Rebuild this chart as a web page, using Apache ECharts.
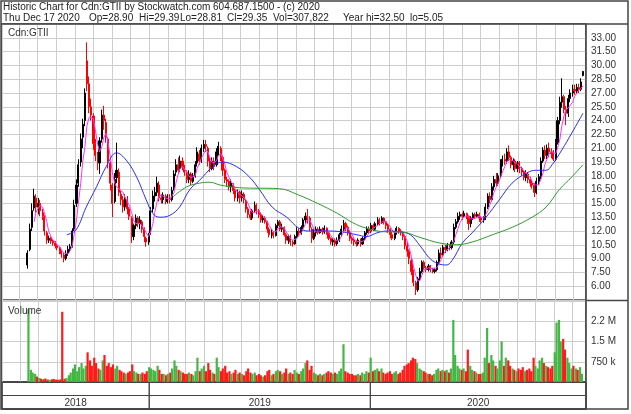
<!DOCTYPE html>
<html><head><meta charset="utf-8">
<script src="https://cdn.jsdelivr.net/npm/echarts@6/dist/echarts.min.js"></script>
<style>html,body{margin:0;padding:0;background:#fff}#c{width:631px;height:414px}</style>
</head><body><div id="c"></div>
<script>
// ---- data (semi-weekly samples) ----
const dates = [
'2018-06-14','2018-06-18','2018-06-21','2018-06-25','2018-06-28',
'2018-07-02','2018-07-05','2018-07-09','2018-07-12','2018-07-16','2018-07-19','2018-07-23','2018-07-26','2018-07-30',
'2018-08-02','2018-08-06','2018-08-09','2018-08-13','2018-08-16','2018-08-20','2018-08-23','2018-08-27','2018-08-30',
'2018-09-03','2018-09-06','2018-09-10','2018-09-13','2018-09-17','2018-09-20','2018-09-24','2018-09-27',
'2018-10-01','2018-10-04','2018-10-08','2018-10-11','2018-10-15','2018-10-18','2018-10-22','2018-10-25','2018-10-29',
'2018-11-01','2018-11-05','2018-11-08','2018-11-12','2018-11-15','2018-11-19','2018-11-22','2018-11-26','2018-11-29',
'2018-12-03','2018-12-06','2018-12-10','2018-12-13','2018-12-17','2018-12-20','2018-12-24','2018-12-27','2018-12-31',
'2019-01-03','2019-01-07','2019-01-10','2019-01-14','2019-01-17','2019-01-21','2019-01-24','2019-01-28','2019-01-31',
'2019-02-04','2019-02-07','2019-02-11','2019-02-14','2019-02-18','2019-02-21','2019-02-25','2019-02-28',
'2019-03-04','2019-03-07','2019-03-11','2019-03-14','2019-03-18','2019-03-21','2019-03-25','2019-03-28',
'2019-04-01','2019-04-04','2019-04-08','2019-04-11','2019-04-15','2019-04-18','2019-04-22','2019-04-25','2019-04-29',
'2019-05-02','2019-05-06','2019-05-09','2019-05-13','2019-05-16','2019-05-20','2019-05-23','2019-05-27','2019-05-30',
'2019-06-03','2019-06-06','2019-06-10','2019-06-13','2019-06-17','2019-06-20','2019-06-24','2019-06-27',
'2019-07-01','2019-07-04','2019-07-08','2019-07-11','2019-07-15','2019-07-18','2019-07-22','2019-07-25','2019-07-29',
'2019-08-01','2019-08-05','2019-08-08','2019-08-12','2019-08-15','2019-08-19','2019-08-22','2019-08-26','2019-08-29',
'2019-09-02','2019-09-05','2019-09-09','2019-09-12','2019-09-16','2019-09-19','2019-09-23','2019-09-26','2019-09-30',
'2019-10-03','2019-10-07','2019-10-10','2019-10-14','2019-10-17','2019-10-21','2019-10-24','2019-10-28','2019-10-31',
'2019-11-04','2019-11-07','2019-11-11','2019-11-14','2019-11-18','2019-11-21','2019-11-25','2019-11-28',
'2019-12-02','2019-12-05','2019-12-09','2019-12-12','2019-12-16','2019-12-19','2019-12-23','2019-12-26','2019-12-30',
'2020-01-02','2020-01-06','2020-01-09','2020-01-13','2020-01-16','2020-01-20','2020-01-23','2020-01-27','2020-01-30',
'2020-02-03','2020-02-06','2020-02-10','2020-02-13','2020-02-17','2020-02-20','2020-02-24','2020-02-27',
'2020-03-02','2020-03-05','2020-03-09','2020-03-12','2020-03-16','2020-03-19','2020-03-23','2020-03-26','2020-03-30',
'2020-04-02','2020-04-06','2020-04-09','2020-04-13','2020-04-16','2020-04-20','2020-04-23','2020-04-27','2020-04-30',
'2020-05-04','2020-05-07','2020-05-11','2020-05-14','2020-05-18','2020-05-21','2020-05-25','2020-05-28',
'2020-06-01','2020-06-04','2020-06-08','2020-06-11','2020-06-15','2020-06-18','2020-06-22','2020-06-25','2020-06-29',
'2020-07-02','2020-07-06','2020-07-09','2020-07-13','2020-07-16','2020-07-20','2020-07-23','2020-07-27','2020-07-30',
'2020-08-03','2020-08-06','2020-08-10','2020-08-13','2020-08-17','2020-08-20','2020-08-24','2020-08-27','2020-08-31',
'2020-09-03','2020-09-07','2020-09-10','2020-09-14','2020-09-17','2020-09-21','2020-09-24','2020-09-28',
'2020-10-01','2020-10-05','2020-10-08','2020-10-12','2020-10-15','2020-10-19','2020-10-22','2020-10-26','2020-10-29',
'2020-11-02','2020-11-05','2020-11-09','2020-11-12','2020-11-16','2020-11-19','2020-11-23','2020-11-26','2020-11-30',
'2020-12-03','2020-12-07','2020-12-10','2020-12-14','2020-12-17'
];
const opens = [
8.3,10.0,12.4,14.5,15.6,
14.6,15.0,14.0,13.5,11.8,11.0,11.2,10.9,10.7,
10.4,10.2,9.8,9.4,9.0,9.6,10.0,10.4,12.2,
15.0,17.2,19.5,22.2,24.0,30.5,28.0,25.5,
24.5,21.5,20.2,19.4,22.0,24.6,23.8,22.0,19.4,
17.0,15.2,17.8,18.4,16.0,15.4,14.6,15.4,14.4,
13.4,11.4,12.6,13.4,12.8,13.0,12.2,11.2,10.8,
11.8,14.4,15.8,16.2,17.0,15.6,15.4,15.8,15.2,
15.6,15.4,16.6,18.4,19.2,18.8,19.6,19.0,
18.4,17.6,18.2,17.4,18.0,19.4,20.4,19.8,
21.0,21.4,21.0,19.6,18.8,19.6,19.2,20.6,21.0,
20.0,18.6,17.6,17.4,16.8,17.0,16.4,15.6,16.2,
15.6,16.0,15.2,14.4,13.8,13.4,14.2,14.8,
14.2,13.8,13.2,13.4,13.0,12.2,11.6,11.8,11.5,
12.6,13.0,12.2,12.4,11.6,11.0,11.4,10.8,10.6,
11.4,12.0,11.8,12.4,13.2,13.6,13.4,12.2,11.2,
11.8,12.2,11.8,12.2,11.9,12.3,11.8,11.2,10.8,
11.0,10.6,11.0,11.6,12.2,12.8,12.4,11.8,
11.2,11.0,10.8,10.6,11.0,10.6,11.2,11.8,12.2,
12.0,12.6,12.2,12.8,13.2,12.9,13.4,13.0,12.6,
12.2,11.6,11.2,11.8,12.3,12.0,11.8,11.4,
10.4,9.8,8.8,7.6,6.4,5.6,6.8,7.6,8.6,
8.0,7.8,8.2,7.8,7.6,7.8,8.6,9.6,9.4,
10.2,10.0,10.4,10.2,10.8,12.4,13.0,13.6,
13.8,13.6,13.9,13.6,12.8,13.4,13.8,13.6,13.8,
13.4,13.2,13.4,14.6,15.8,15.4,16.8,17.6,17.2,
18.0,19.4,19.8,19.6,20.6,20.0,19.2,19.6,18.8,
19.4,18.8,18.4,17.8,18.2,17.6,17.2,17.0,
16.2,17.4,17.9,19.6,20.8,20.2,21.0,20.6,20.4,
19.8,21.6,24.0,26.0,26.6,25.2,24.8,26.4,27.0,
27.4,27.2,27.6,27.4,28.90
];
const highs = [
9.9,12.8,15.0,16.6,16.0,
15.6,15.4,14.4,13.7,12.0,11.5,11.4,11.1,10.9,
10.6,10.3,9.9,9.6,9.9,10.4,10.6,12.3,15.4,
17.6,19.8,22.6,24.2,27.5,32.5,28.8,26.4,
24.8,22.0,20.6,22.2,25.2,25.6,24.2,22.2,19.6,
17.2,18.3,21.6,18.8,16.4,15.8,16.0,15.8,14.6,
13.6,12.8,13.8,13.6,13.6,13.2,12.4,11.4,11.8,
14.6,16.4,16.8,17.9,17.4,16.0,16.2,16.0,16.0,
16.0,16.8,18.6,19.8,20.0,20.2,20.0,19.2,
18.6,18.6,18.4,18.3,19.6,21.1,20.8,21.4,
21.9,21.9,21.2,20.0,20.0,20.0,21.0,21.7,21.2,
20.2,18.8,17.9,17.6,17.6,17.2,16.6,16.5,16.4,
16.4,16.2,15.4,14.6,14.2,14.4,15.2,15.0,
14.4,14.0,13.7,13.6,13.1,12.4,12.2,12.0,12.8,
13.2,13.2,12.8,12.5,11.8,11.6,11.6,11.0,11.6,
12.4,12.3,12.6,13.4,14.0,14.4,13.6,12.4,12.2,
12.5,12.4,12.5,12.4,12.6,12.4,11.9,11.3,11.2,
11.2,11.3,11.8,12.6,13.2,13.0,12.6,12.0,
11.4,11.2,11.0,11.2,11.2,11.4,12.0,12.5,12.5,
12.9,12.8,13.0,13.5,13.4,13.6,13.5,13.1,12.8,
12.3,11.9,12.0,12.5,12.4,12.2,12.0,11.6,
10.8,10.0,9.0,7.8,6.6,7.0,8.0,8.8,8.8,
8.2,8.4,8.3,8.0,8.0,8.8,10.0,10.2,10.5,
10.5,10.7,10.6,11.0,12.8,13.3,14.0,14.1,
14.0,14.2,14.0,13.7,13.6,14.0,14.0,14.1,14.0,
13.6,13.6,15.0,16.1,16.2,17.2,18.0,18.3,18.3,
19.8,20.2,20.4,21.0,21.3,20.2,19.9,19.8,19.6,
19.6,19.0,18.6,18.6,18.4,17.9,17.6,17.2,
17.8,18.2,20.0,21.1,21.3,21.4,21.6,21.0,20.8,
22.0,24.4,26.6,28.6,26.8,25.6,26.8,27.4,27.9,
27.9,28.0,28.0,28.6,29.39
];
const lows = [
7.9,9.8,12.0,14.2,14.0,
13.8,13.6,13.2,11.5,10.6,10.7,10.6,10.4,10.1,
9.9,9.5,9.1,8.6,8.8,9.3,9.7,10.2,12.0,
14.6,16.8,19.0,21.0,23.4,27.2,24.8,24.0,
20.8,19.6,18.6,18.2,21.6,23.0,21.6,18.8,16.4,
13.5,15.0,17.2,15.8,14.8,14.0,14.2,13.8,13.2,
10.7,11.0,12.2,12.4,12.2,11.8,10.8,10.3,10.5,
11.6,14.0,15.2,15.8,15.2,15.0,15.0,14.9,15.0,
15.0,15.2,16.4,18.0,18.2,18.4,18.6,18.0,
17.2,17.2,17.0,17.2,17.8,19.0,19.2,19.4,
20.6,20.6,19.0,18.4,18.6,18.6,19.0,20.2,19.6,
18.0,17.2,16.8,16.4,16.2,16.0,15.2,15.2,15.0,
15.2,15.0,14.0,13.4,13.2,13.2,14.0,13.8,
13.4,12.9,12.9,12.8,11.8,11.3,11.2,11.2,11.4,
12.3,12.0,11.9,11.4,10.6,10.6,10.4,10.3,10.5,
11.2,11.5,11.6,12.2,12.8,12.8,12.0,10.7,11.0,
11.4,11.6,11.7,11.6,11.7,11.6,11.0,10.5,10.4,
10.3,10.4,10.8,11.4,12.0,12.0,11.5,10.9,
10.6,10.4,10.3,10.4,10.3,10.5,11.0,11.6,11.7,
11.8,12.0,12.0,12.6,12.6,12.8,12.7,12.2,11.8,
11.2,11.0,11.0,11.6,11.7,11.5,11.0,10.0,
9.2,8.4,7.2,6.0,5.05,5.4,6.6,7.4,7.8,
7.5,7.6,7.5,7.4,7.4,7.6,8.4,9.0,9.2,
9.6,9.8,9.9,10.0,10.6,12.2,12.8,13.2,
13.2,13.4,13.3,12.1,12.4,13.2,13.3,13.4,13.0,
12.9,12.9,13.2,14.4,15.0,15.2,16.4,16.8,16.9,
17.8,19.0,19.2,19.3,19.6,18.8,18.6,18.4,18.4,
18.3,18.0,17.5,17.4,17.2,16.8,16.6,15.7,
16.0,17.0,17.6,19.4,19.8,19.8,20.0,19.9,19.6,
19.6,21.4,23.6,25.4,24.8,23.5,24.4,26.0,26.6,
26.8,26.9,27.0,27.2,28.81
];
const closes = [
9.6,12.2,14.2,15.8,14.6,
15.0,14.2,13.6,12.0,11.0,11.2,10.9,10.7,10.4,
10.2,9.8,9.5,9.0,9.6,10.0,10.3,12.0,14.8,
17.0,19.2,22.0,23.6,27.0,28.0,25.5,24.6,
21.5,20.2,19.4,21.8,24.6,24.0,22.2,19.6,17.2,
15.0,17.6,18.6,16.2,15.4,14.6,15.6,14.4,13.6,
11.4,12.6,13.4,12.8,13.2,12.2,11.4,10.8,11.6,
14.2,15.8,16.2,17.2,15.6,15.4,15.9,15.2,15.6,
15.4,16.4,18.2,19.2,18.6,19.6,19.0,18.4,
17.6,18.2,17.4,18.0,19.2,20.6,19.6,21.0,
21.4,21.2,19.6,18.8,19.6,19.0,20.6,21.2,20.0,
18.6,17.6,17.4,16.8,17.2,16.4,15.6,16.2,15.6,
16.0,15.4,14.4,13.8,13.4,14.2,14.8,14.2,
13.8,13.2,13.4,13.0,12.2,11.6,11.8,11.5,12.6,
13.0,12.2,12.4,11.6,11.0,11.4,10.8,10.6,11.4,
12.0,11.8,12.4,13.2,13.6,13.4,12.4,11.2,11.8,
12.2,11.8,12.2,11.9,12.3,11.8,11.2,10.8,11.0,
10.6,11.0,11.6,12.2,12.8,12.4,11.8,11.2,
11.0,10.8,10.6,11.0,10.6,11.2,11.8,12.2,12.0,
12.6,12.2,12.8,13.2,12.9,13.4,13.0,12.6,12.2,
11.6,11.2,11.8,12.3,12.0,11.8,11.4,10.4,
9.8,9.0,7.6,6.4,5.6,6.8,7.6,8.6,8.0,
7.8,8.2,7.8,7.6,7.8,8.6,9.6,9.4,10.2,
10.0,10.4,10.2,10.8,12.4,13.0,13.6,13.8,
13.6,13.9,13.6,12.8,13.4,13.8,13.6,13.8,13.4,
13.2,13.4,14.6,15.8,15.4,16.8,17.6,17.2,18.0,
19.4,19.8,19.6,20.6,20.0,19.2,19.6,18.8,19.4,
18.8,18.4,17.8,18.2,17.6,17.2,17.0,16.2,
17.4,17.9,19.6,20.8,20.2,21.0,20.6,20.4,19.8,
21.6,24.0,26.0,26.6,25.2,24.8,26.4,27.0,27.4,
27.2,27.6,27.4,28.2,29.35
];
// volume, thousands of shares
const volumes = [
2700,450,350,300,200,
150,120,100,130,90,80,100,110,90,
80,100,2600,120,150,250,350,500,650,
400,550,700,500,600,1100,800,600,
900,700,500,450,800,1000,600,700,550,
650,500,600,450,400,350,300,350,400,
650,400,350,300,300,350,300,400,550,
500,450,400,600,450,300,300,250,300,
350,500,800,600,450,400,350,300,
300,350,300,250,400,900,400,500,
600,400,700,450,350,300,900,550,400,
500,600,350,400,300,350,450,300,350,
300,250,400,500,350,300,350,250,
300,250,200,250,400,450,250,300,400,
450,400,300,350,500,300,350,300,450,
350,300,400,500,700,800,450,600,350,
300,250,300,250,300,350,400,350,300,
350,300,400,500,1400,400,350,300,
300,250,250,300,250,350,300,400,350,
900,400,450,500,400,500,350,300,350,
400,300,350,400,300,350,450,600,
650,700,800,900,850,700,500,450,400,
350,300,300,250,300,450,500,400,450,
400,450,350,500,2300,1000,600,500,
450,500,400,1200,600,450,400,350,300,
300,350,900,2000,700,1000,800,600,500,
800,1500,600,900,800,600,500,450,400,
500,450,550,400,450,500,400,900,
600,500,800,900,700,600,550,500,600,
1100,2200,2300,1500,1600,1200,900,700,500,
600,500,450,550,308
];
// short moving average (magenta), one value per date
const maShort = [
null,null,null,13.0,14.0,
14.5,14.8,14.6,14.0,13.0,12.0,11.4,11.0,10.8,
10.5,10.3,10.0,9.6,9.4,9.5,9.8,10.4,11.6,
13.2,15.0,17.2,19.4,21.2,23.4,24.4,24.6,
24.2,23.0,21.4,20.6,21.2,22.2,22.6,21.6,20.0,
18.4,17.2,16.8,16.6,16.6,16.2,15.6,15.2,14.8,
14.0,13.2,12.8,12.8,12.8,12.6,12.2,11.8,11.4,
11.8,12.8,14.0,15.2,15.8,15.9,15.8,15.6,15.5,
15.4,15.6,16.2,17.2,18.2,18.8,19.0,18.8,
18.4,18.0,17.8,17.7,18.0,18.8,19.4,19.9,
20.4,20.8,20.6,20.0,19.4,19.2,19.6,20.2,20.4,
20.0,19.2,18.4,17.8,17.4,17.0,16.6,16.2,16.0,
15.8,15.7,15.4,15.0,14.4,14.0,14.0,14.2,
14.2,13.9,13.6,13.4,13.0,12.6,12.2,11.9,11.9,
12.2,12.5,12.5,12.3,11.9,11.5,11.2,11.0,11.0,
11.2,11.5,11.8,12.2,12.8,13.2,13.2,12.8,12.2,
11.9,11.9,11.9,12.0,12.0,12.0,11.8,11.5,11.2,
11.0,10.9,11.0,11.4,11.9,12.3,12.3,12.0,
11.6,11.2,10.9,10.8,10.8,10.8,11.0,11.4,11.8,
12.1,12.3,12.4,12.6,12.8,13.0,13.1,13.0,12.8,
12.5,12.1,11.8,11.8,11.9,12.0,11.9,11.4,
10.9,10.2,9.2,8.2,7.2,6.6,6.6,7.2,7.8,
8.0,8.0,8.0,7.9,7.8,8.0,8.4,8.9,9.4,
9.8,10.0,10.2,10.4,10.9,11.6,12.3,12.9,
13.4,13.6,13.7,13.5,13.3,13.3,13.4,13.5,13.6,
13.5,13.4,13.6,14.2,14.8,15.5,16.2,16.8,17.2,
17.8,18.4,19.0,19.5,19.8,19.8,19.6,19.4,19.2,
19.0,18.8,18.6,18.3,18.1,17.8,17.4,17.0,
16.9,17.0,17.5,18.3,19.2,19.9,20.4,20.6,20.5,
20.4,21.0,22.0,23.4,24.6,25.2,25.4,25.6,26.0,
26.6,27.0,27.3,27.5,27.8
];
// medium moving average (blue)
const maMidDates = ['2018-08-18','2018-09-02','2018-09-19','2018-10-06','2018-10-22','2018-11-08','2018-11-24','2018-12-11','2018-12-27',
'2019-01-07','2019-01-18','2019-02-04','2019-02-20','2019-03-09','2019-03-25','2019-04-16','2019-05-02','2019-05-25','2019-06-15','2019-07-02','2019-07-23','2019-08-16','2019-09-05','2019-09-21','2019-10-20','2019-11-16','2019-12-09','2019-12-26',
'2020-01-12','2020-01-29','2020-02-20','2020-03-07','2020-03-23','2020-04-12','2020-05-05','2020-05-15','2020-06-01','2020-06-17','2020-07-10','2020-08-01','2020-08-22','2020-09-15','2020-10-01','2020-10-17','2020-10-27','2020-11-12','2020-11-29','2020-12-17'];
const maMid = [11.6,12.1,14.6,16.8,19.0,20.5,19.7,17.9,15.4,
13.9,13.5,13.7,14.6,16.5,17.5,19.0,19.5,19.0,17.9,16.5,14.6,13.5,12.3,12.0,12.0,11.9,11.6,11.4,
11.8,12.0,11.9,11.6,10.4,8.8,8.3,8.8,10.7,11.8,13.5,15.4,17.2,18.3,18.6,18.6,19.2,20.8,22.7,24.8];
// long moving average (green)
const maLongDates = ['2019-02-09','2019-03-04','2019-03-25','2019-04-11','2019-04-28','2019-05-30','2019-08-04','2019-09-05','2019-10-06','2019-11-08','2019-12-03','2019-12-26',
'2020-01-29','2020-02-20','2020-03-23','2020-04-24','2020-05-22','2020-06-17','2020-07-21','2020-08-22','2020-09-24','2020-10-17','2020-11-08','2020-11-29','2020-12-17'];
const maLong = [15.7,16.8,17.2,17.3,17.0,16.7,16.6,15.9,15.0,13.9,12.9,12.3,
11.9,11.9,11.3,10.7,10.5,10.8,11.6,12.4,13.5,14.6,16.5,17.9,19.2];
// axis ranges / labels
const xStart = '2018-05-03', xEnd = '2020-12-22';
const yearLabels = ['2018', '2019', '2020'];
const yearBounds = ['2018-05-03', '2019-01-01', '2020-01-01', '2020-12-22'];
const volumeTickLabels = {750000: '750 k', 1500000: '1.5 M', 2250000: '2.2 M'};
const headerLine1 = 'Historic Chart for Cdn:GTII by Stockwatch.com 604.687.1500 - (c) 2020';
const headerParts = [['Thu Dec 17 2020', 3], ['Op=28.90', 89], ['Hi=29.39', 139], ['Lo=28.81', 180], ['Cl=29.35', 227], ['Vol=307,822', 273], ['Year hi=32.50', 343], ['lo=5.05', 410]];

// ---- chart ----
const FONT = 'Liberation Sans, Arial, sans-serif';
const TXT = '#333';
const GRIDC = '#cdcdcd';
const FRAME = '#444';
const UP = '#000000', DOWN = '#ff0000';
const VUP = '#45b545', VDOWN = '#ff1a1a';
const DAY = 86400000;

const chart = echarts.init(document.getElementById('c'));
const candleData = dates.map((d, i) => [d, opens[i], closes[i], lows[i], highs[i]]);
const volData = dates.map((d, i) => ({value: [d, volumes[i] * 1000], itemStyle: {color: closes[i] >= opens[i] ? VUP : VDOWN}}));
const shortData = dates.map((d, i) => [d, maShort[i]]).filter(p => p[1] != null);
const midData = maMidDates.map((d, i) => [d, maMid[i]]);
const longData = maLongDates.map((d, i) => [d, maLong[i]]);

function xAx(idx, split) {
  return {type: 'time', gridIndex: idx, min: xStart, max: xEnd, splitNumber: 32,
    minInterval: 30 * DAY, maxInterval: 30 * DAY,
    axisLine: {show: false}, axisTick: {show: false}, axisLabel: {show: false},
    splitLine: {show: split, lineStyle: {color: GRIDC, width: 1}}};
}
const ts = {fontSize: 10, fontWeight: 'normal', color: '#222', fontFamily: FONT};
const titles = [{text: headerLine1, left: 3, top: 2, padding: 0, textStyle: ts}]
  .concat(headerParts.map(p => ({text: p[0], left: p[1], top: 13, padding: 0, textStyle: ts})))
  .concat([{text: 'Cdn:GTII', left: 8, top: 28, padding: 0, textStyle: Object.assign({}, ts, {color: TXT})},
           {text: 'Volume', left: 8, top: 306, padding: 0, textStyle: Object.assign({}, ts, {color: TXT})}]);

chart.setOption({
  animation: false,
  backgroundColor: '#fff',
  title: titles,
  grid: [
    {left: 2, right: 45, top: 24, height: 276, show: true, borderColor: FRAME, borderWidth: 1.5, backgroundColor: '#fff'},
    {left: 2, right: 45, top: 301, height: 81, show: true, borderColor: FRAME, borderWidth: 1.5, backgroundColor: '#fff'},
    {left: 2, right: 45, top: 382, height: 27, show: true, borderColor: FRAME, borderWidth: 1.5}
  ],
  xAxis: [xAx(0, true), xAx(1, true), xAx(2, false)],
  yAxis: [
    {type: 'value', gridIndex: 0, position: 'right', min: 4.5, max: 34.5, interval: 1.5,
     axisLine: {show: false}, axisTick: {show: false},
     axisLabel: {color: TXT, fontSize: 10, fontFamily: FONT, margin: 5,
       formatter: v => (v >= 6 && v <= 33) ? v.toFixed(2) : ''},
     splitLine: {lineStyle: {color: GRIDC}}},
    {type: 'value', gridIndex: 1, position: 'right', min: 0, max: 3000000, interval: 750000,
     axisLine: {show: false}, axisTick: {show: false},
     axisLabel: {color: TXT, fontSize: 10, fontFamily: FONT, margin: 5,
       formatter: v => volumeTickLabels[v] || ''},
     splitLine: {lineStyle: {color: GRIDC}}},
    {type: 'value', gridIndex: 2, min: 0, max: 2, interval: 1,
     axisLine: {show: false}, axisTick: {show: false}, axisLabel: {show: false},
     splitLine: {lineStyle: {color: FRAME, width: 1}}}
  ],
  series: [
    {type: 'candlestick', xAxisIndex: 0, yAxisIndex: 0, data: candleData, barWidth: 1.6,
     itemStyle: {color: UP, color0: DOWN, borderColor: UP, borderColor0: DOWN, borderWidth: 1}},
    {type: 'line', xAxisIndex: 0, yAxisIndex: 0, data: shortData, symbol: 'none',
     lineStyle: {color: '#ff33ff', width: 1}},
    {type: 'line', xAxisIndex: 0, yAxisIndex: 0, data: midData, symbol: 'none', smooth: 0.4,
     lineStyle: {color: '#2d2dff', width: 1}},
    {type: 'line', xAxisIndex: 0, yAxisIndex: 0, data: longData, symbol: 'none', smooth: 0.4,
     lineStyle: {color: '#2f9a2f', width: 1}},
    {type: 'bar', xAxisIndex: 1, yAxisIndex: 1, data: volData, barWidth: 2.2},
    {type: 'line', xAxisIndex: 2, yAxisIndex: 2, data: [], symbol: 'none',
     markArea: {silent: true, itemStyle: {color: 'rgba(0,0,0,0)', borderColor: FRAME, borderWidth: 1},
       label: {show: true, position: 'insideBottom', distance: 1, color: TXT, fontSize: 10, fontFamily: FONT},
       data: yearLabels.map((y, i) => [{name: y, xAxis: yearBounds[i], yAxis: 0}, {xAxis: yearBounds[i + 1], yAxis: 2}])}}
  ],
  graphic: [
    {type: 'rect', silent: true, z: 100, shape: {x: 1, y: 1, width: 627, height: 408}, style: {fill: null, stroke: FRAME, lineWidth: 1.5}},
    {type: 'line', silent: true, z: 100, shape: {x1: 1, y1: 24, x2: 628, y2: 24}, style: {stroke: FRAME, lineWidth: 1.5}},
    {type: 'line', silent: true, z: 100, shape: {x1: 586, y1: 300.5, x2: 628, y2: 300.5}, style: {stroke: FRAME, lineWidth: 1.5}},
    {type: 'line', silent: true, z: 100, shape: {x1: 586, y1: 24, x2: 586, y2: 409}, style: {stroke: FRAME, lineWidth: 1.5}}
  ]
});
</script>
</body></html>
